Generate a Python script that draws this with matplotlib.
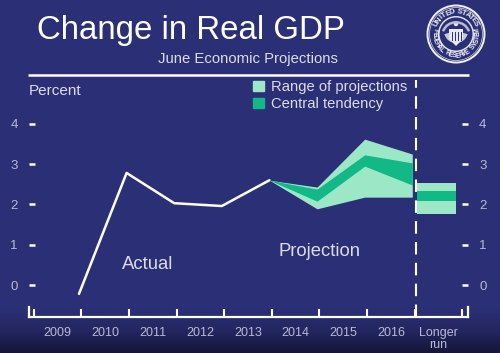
import numpy as np
import matplotlib
matplotlib.use('Agg')
import matplotlib.pyplot as plt
from matplotlib.colors import LinearSegmentedColormap
from matplotlib.patches import Patch, Circle, Polygon, Wedge

plt.rcParams['font.family'] = ['Liberation Sans', 'DejaVu Sans']

# values
actual_years = [2009, 2010, 2011, 2012, 2013]
actual_gdp = [-0.22, 2.78, 2.03, 1.96, 2.6]

proj_years = [2013, 2014, 2015, 2016]
range_low = [2.6, 1.89, 2.18, 2.18]
range_high = [2.6, 2.43, 3.62, 3.25]
central_low = [2.6, 2.08, 2.95, 2.48]
central_high = [2.6, 2.38, 3.23, 3.03]

longer_run_x = [2016.1, 2016.92]
longer_range = [1.76, 2.53]
longer_central = [2.08, 2.33]

year_labels = ['2009', '2010', '2011', '2012', '2013', '2014', '2015', '2016', 'Longer\nrun']
y_ticks = [0, 1, 2, 3, 4]

BG = '#2b2f75'
LIGHT = '#9ce8c6'
DARK = '#12b886'
TXT = '#dcdcea'
TICKTXT = '#b9bad2'
W, H = 500, 353

fig = plt.figure(figsize=(W / 100, H / 100), dpi=100, facecolor=BG)

# darker band at the bottom of the slide
bg_ax = fig.add_axes([0, 0, 1, 1], zorder=0)
cmap = LinearSegmentedColormap.from_list('slide', ['#14163a', '#23265f', BG])
bg_ax.imshow(np.linspace(0, 1, 44).reshape(-1, 1), cmap=cmap, aspect='auto',
             extent=[0, W, H, 309], origin='lower')
bg_ax.set_xlim(0, W)
bg_ax.set_ylim(H, 0)
bg_ax.axis('off')

# main chart, frame runs 29-468 px across and 80-317 px down
ax = fig.add_axes([29 / W, (H - 317) / H, 439 / W, 237 / H], zorder=2)
ax.patch.set_alpha(0)
ax.set_xlim(2007.95, 2017.17)
ax.set_ylim(-0.794, 5.087)

ax.fill_between(proj_years, range_low, range_high, color=LIGHT, lw=0)
ax.fill_between(proj_years, central_low, central_high, color=DARK, lw=0)
ax.fill_between(longer_run_x, longer_range[0], longer_range[1], color=LIGHT, lw=0)
ax.fill_between(longer_run_x, longer_central[0], longer_central[1], color=DARK, lw=0)
ax.plot(actual_years, actual_gdp, color='white', lw=1.8, solid_capstyle='round')
ax.axvline(2016.08, color='white', lw=1.5, linestyle=(0, (6, 4)), dash_capstyle='butt')

ax.spines['top'].set_visible(False)
for side in ['left', 'right', 'bottom']:
    ax.spines[side].set_color('white')
    ax.spines[side].set_linewidth(1.6)
ax.spines['left'].set_bounds(-0.794, -0.55)
ax.spines['right'].set_bounds(-0.794, -0.55)

tick_x = [2008.05 + i for i in range(10)]
ax.set_xticks(tick_x)
ax.set_xticklabels([])
ax.set_xticks([t + 0.5 for t in tick_x[:-1]], minor=True)
ax.set_xticklabels(year_labels, minor=True, fontsize=9, color=TICKTXT, linespacing=1.05, va='top')
ax.tick_params(axis='x', which='major', direction='in', length=5.5, width=1.5, color='white')
ax.tick_params(axis='x', which='minor', length=0, pad=7)
ax.set_yticks(y_ticks)
ax.tick_params(axis='y', direction='in', length=4.5, width=1.8, color='white', left=True, right=True,
               labelleft=True, labelright=True, labelsize=9.5, labelcolor=TICKTXT, pad=8)

ax.text(2010.45, 0.5, 'Actual', color=TXT, fontsize=13.3, ha='center', va='center')
ax.text(2014.06, 0.83, 'Projection', color=TXT, fontsize=13.3, ha='center', va='center')

handles = [Patch(color=LIGHT, label='Range of projections'), Patch(color=DARK, label='Central tendency')]
ax.legend(handles=handles, loc='upper left', bbox_to_anchor=(0.51, 1.0), frameon=False, fontsize=10.6,
          labelcolor=TXT, handlelength=0.75, handleheight=0.62, handletextpad=0.47,
          labelspacing=0.22, borderpad=0, borderaxespad=0)

# title block and seal live in pixel coordinates
bg_ax.set_zorder(1)
bg_ax.text(37, 31, 'Change in Real GDP', color='white', fontsize=23.8, va='center', ha='left')
bg_ax.text(248, 59, 'June Economic Projections', color=TXT, fontsize=10.7, va='center', ha='center')
bg_ax.text(29, 91, 'Percent', color=TXT, fontsize=11, va='center', ha='left')
bg_ax.plot([28, 469], [75, 75], color='white', lw=1.8, solid_capstyle='butt')

cx, cy = 456, 34
bg_ax.add_patch(Circle((cx, cy), 29.5, fc='#f0f0f6', ec='none'))
bg_ax.add_patch(Circle((cx, cy), 27.5, fc=BG, ec='none'))
bg_ax.add_patch(Circle((cx, cy), 26.5, fc='none', ec='#d8d9e8', lw=0.5))
bg_ax.add_patch(Circle((cx, cy), 18, fc='#dfe0ee', ec='none'))
bg_ax.add_patch(Circle((cx, cy), 16.5, fc=BG, ec='none'))

top_text = 'UNITED STATES'
low_text = 'FEDERAL RESERVE SYSTEM'
for i, ch in enumerate(top_text):
    a = np.radians(90 + (len(top_text) / 2 - 0.5 - i) * 10.5)
    bg_ax.text(cx + 22 * np.cos(a), cy - 22 * np.sin(a), ch, color='#eeeef6', fontsize=5.5, fontweight='bold',
               ha='center', va='center', rotation=np.degrees(a) - 90)
for i, ch in enumerate(low_text):
    a = np.radians(270 - (len(low_text) / 2 - 0.5 - i) * 9.5)
    bg_ax.text(cx + 22 * np.cos(a), cy - 22 * np.sin(a), ch, color='#eeeef6', fontsize=5, fontweight='bold',
               ha='center', va='center', rotation=np.degrees(a) + 90)

# eagle wings and shield
bg_ax.add_patch(Wedge((cx, cy - 3), 12, 15, 165, width=5, fc='#c8c9dd', ec='none'))
bg_ax.add_patch(Circle((cx, cy - 10), 2.2, fc='#e8e8f2', ec='none'))
bg_ax.add_patch(Polygon([(cx - 7, cy - 5), (cx + 7, cy - 5), (cx + 7, cy + 5), (cx, cy + 12), (cx - 7, cy + 5)],
                        fc='#e8e8f2', ec='none'))
for dx in [-4.5, -1.5, 1.5, 4.5]:
    bg_ax.plot([cx + dx, cx + dx], [cy - 2, cy + 6], color=BG, lw=0.7)
bg_ax.add_patch(Wedge((cx, cy + 2), 15, 200, 340, width=2.5, fc='#b8b9d2', ec='none'))

fig.savefig('out.png', dpi=100, facecolor=BG)
